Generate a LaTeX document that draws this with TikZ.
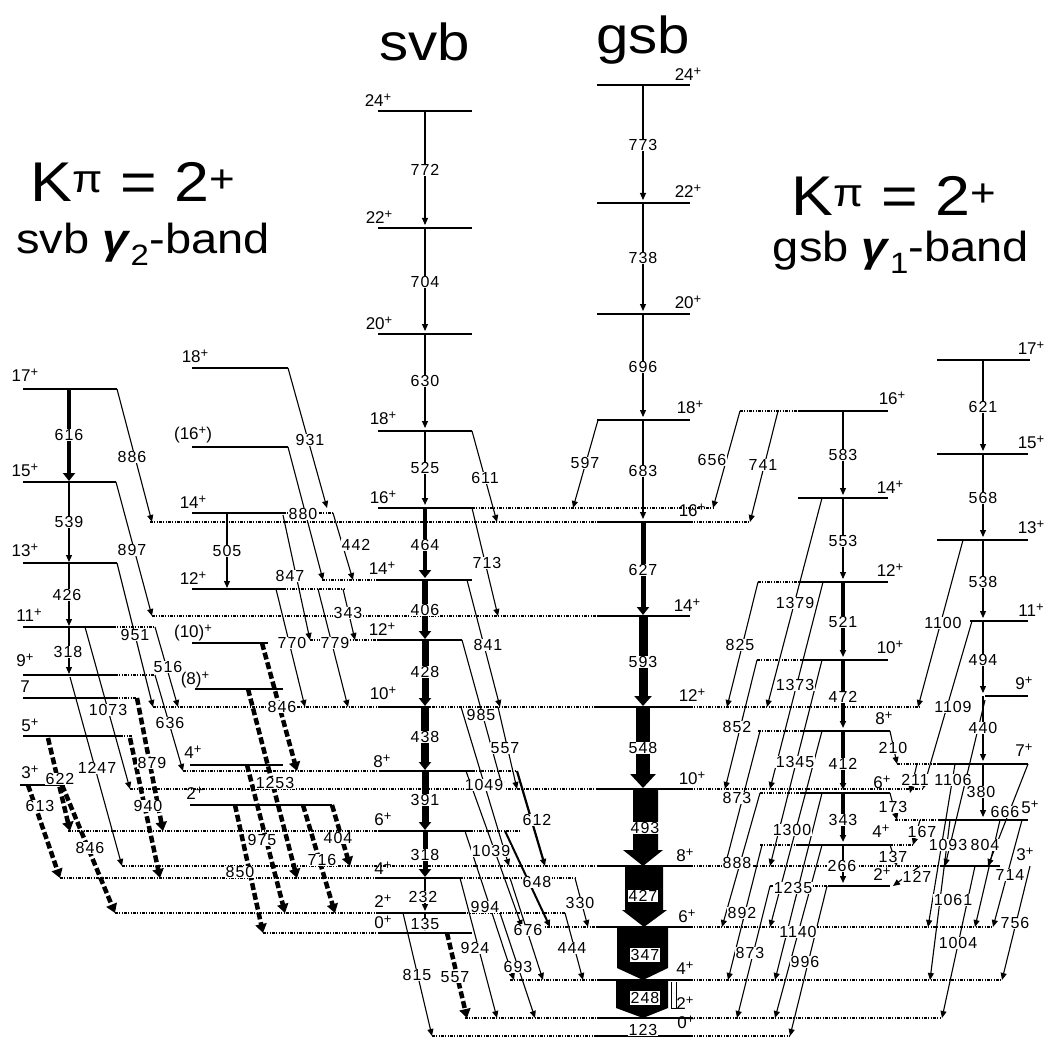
\documentclass[tikz,border=0pt]{standalone}
\usepackage{fontspec}
\setmainfont{Liberation Sans}
\newfontfamily\numfont[LetterSpace=6]{Liberation Sans}
\newfontfamily\widefont[FakeStretch=1.12]{Liberation Sans}
\usetikzlibrary{arrows.meta}
\pgfdeclarelayer{labels}
\pgfsetlayers{main,labels}
\newcounter{trn}
\newcommand\pl{\raisebox{0.55ex}{\fontsize{13}{13}\selectfont +}}
% level line, dotted level extension, spin labels, gamma transition
\newcommand\Lv[3]{\draw[lev] (#1,#3) -- (#2,#3);}
\newcommand\Ex[3]{\draw[ext] (#1,#3) -- (#2,#3);}
\newcommand\Sp[3]{\stepcounter{trn}\node[spn] (sp\arabic{trn}) at (#1,#2) {#3\pl};}
\newcommand\St[3]{\stepcounter{trn}\node[spn] (sp\arabic{trn}) at (#1,#2) {#3};}
\newcommand\Gm[8][]{\stepcounter{trn}%
  \coordinate (t\arabic{trn}) at (#2,#3);%
  \coordinate (h\arabic{trn}) at (#4,#5);%
  \draw[gam,#1] (t\arabic{trn}) -- (h\arabic{trn});%
  \begin{pgfonlayer}{labels}\node[lbl] (e\arabic{trn}) at (#7,#8) {#6};\end{pgfonlayer}}
\begin{document}
\begin{tikzpicture}[x=1pt,y=-1pt,
  lev/.style={line width=1.4pt},
  ext/.style={line width=1.2pt,dash pattern=on 2.5pt off 1.5pt on 1pt off 1.5pt on 1pt off 1.5pt},
  gam/.style={line width=1.1pt,-{Triangle[length=7pt,width=6pt]}},
  thk/.style={-{Triangle[length=8pt,width=12pt]}},
  fat/.style={line width=4.5pt,dash pattern=on 7pt off 3pt,-{Triangle[length=9pt,width=11pt]}},
  lbl/.style={fill=white,inner sep=0.5pt,font=\numfont\fontsize{16}{16}\selectfont},
  spn/.style={inner sep=0pt,font=\fontsize{17}{17}\selectfont},
  ttl/.style={inner sep=0pt,font=\widefont\fontsize{52}{52}\selectfont},
  kpi/.style={inner sep=0pt,font=\widefont\fontsize{56}{56}\selectfont},
  bnd/.style={inner sep=0pt,font=\widefont\fontsize{42}{42}\selectfont},
  box/.style={fill=white,draw,line width=0.8pt,inner sep=1.5pt,font=\numfont\fontsize{16}{16}\selectfont}]
\useasboundingbox (0,0) rectangle (1048,1040);

% ---------------- titles
\node[ttl] (tsvb) at (425,42) {svb};
\node[ttl] (tgsb) at (643,40) {gsb};
\node[kpi] (kl) at (133,182) {K\textsuperscript{π} = 2\textsuperscript{+}};
\node[bnd] (bl) at (143,244) {svb \textbf{\textit{γ}}\textsubscript{2}-band};
\node[kpi] (kr) at (894,196) {K\textsuperscript{π} = 2\textsuperscript{+}};
\node[bnd] (br) at (901,252) {gsb \textbf{\textit{γ}}\textsubscript{1}-band};

% ---------------- ground-state band
\foreach \y in {85,203,314,420,522,616,707,789,866,927,980,1018,1036} {\Lv{597}{690}{\y}}
\Sp{688}{74}{24}\Sp{688}{191}{22}\Sp{688}{302}{20}\Sp{690}{407}{18}
\Sp{692}{510}{16}\Sp{687}{605}{14}\Sp{692}{695}{12}\Sp{692}{778}{10}
\Sp{685}{855}{8}\Sp{687}{916}{6}\Sp{685}{968}{4}\Sp{685}{1003}{2}\Sp{686}{1022}{0}
\Gm{643}{85}{643}{200}{773}{643}{145}
\Gm{643}{203}{643}{311}{738}{643}{258}
\Gm{643}{314}{643}{417}{696}{643}{367}
\Gm{643}{420}{643}{519}{683}{643}{471}
\Gm[line width=5pt,thk]{643}{522}{643}{615}{627}{643}{570}
\Gm[line width=9pt,-{Triangle[length=10pt,width=17pt]}]{643}{616}{643}{706}{593}{643}{662}
\Gm[line width=14pt,-{Triangle[length=14pt,width=25pt]}]{643}{707}{643}{788}{548}{643}{748}
\fill (633,789) -- (658,789) -- (658,850) -- (663,850) -- (643,866) -- (623,850) -- (633,850) -- cycle;
\fill (625,866) -- (663,866) -- (663,910) -- (667,910) -- (644,927) -- (622,910) -- (625,910) -- cycle;
\fill (617,927) -- (668,927) -- (668,968) -- (643,980) -- (617,968) -- cycle;
\fill (616,980) -- (668,980) -- (668,1008) -- (643,1018) -- (616,1008) -- cycle;
\draw[line width=0.8pt] (671,982) -- (671,1008) -- (676,1008) -- (676,982);
\begin{pgfonlayer}{labels}
\node[lbl] (g493) at (645,828) {493};
\node[lbl] (g427) at (643,896) {427};
\node[box] (g347) at (645,955) {347};
\node[box] (g248) at (645,998) {248};
\node[lbl] (g123) at (643,1030) {123};
\end{pgfonlayer}

% ---------------- second-vacuum band
\foreach \y in {111,228,334,431,508,580} {\Lv{378}{472}{\y}}
\Lv{378}{462}{640}\Lv{378}{430}{707}\Lv{380}{472}{771}\Lv{378}{470}{831}
\Lv{378}{460}{878}\Lv{378}{463}{913}\Lv{378}{472}{933}
\Sp{378}{100}{24}\Sp{379}{217}{22}\Sp{379}{323}{20}\Sp{383}{418}{18}
\Sp{383}{497}{16}\Sp{382}{568}{14}\Sp{382}{629}{12}\Sp{383}{693}{10}
\Sp{382}{761}{8}\Sp{383}{819}{6}\Sp{383}{868}{4}\Sp{383}{901}{2}\Sp{383}{922}{0}
\Gm{425}{111}{425}{225}{772}{425}{170}
\Gm{425}{228}{425}{331}{704}{425}{282}
\Gm{425}{334}{425}{428}{630}{425}{381}
\Gm[line width=2.5pt]{425}{431}{425}{505}{525}{425}{468}
\Gm[line width=4pt,thk]{425}{508}{425}{578}{464}{425}{545}
\Gm[line width=6pt,thk]{425}{580}{425}{639}{406}{425}{610}
\Gm[line width=7pt,thk]{425}{640}{425}{706}{428}{425}{672}
\Gm[line width=8pt,thk]{425}{707}{425}{770}{438}{425}{737}
\Gm[line width=7pt,thk]{425}{771}{425}{830}{391}{425}{800}
\Gm[line width=5pt,thk]{425}{831}{425}{877}{318}{425}{855}
\Gm[line width=1.5pt]{425}{878}{425}{911}{232}{423}{897}
\Gm{425}{913}{425}{931}{135}{425}{924}

% level extensions in the central part
\Ex{472}{715}{508}\Ex{150}{597}{522}\Ex{690}{750}{522}
\Ex{322}{378}{580}\Ex{152}{597}{616}\Ex{310}{378}{640}
\Ex{153}{597}{707}\Ex{690}{920}{707}
\Ex{183}{380}{771}\Ex{472}{517}{771}
\Ex{130}{597}{789}\Ex{690}{923}{789}
\Ex{68}{378}{831}\Ex{470}{520}{831}
\Ex{122}{597}{866}\Ex{690}{990}{866}
\Ex{60}{378}{878}\Ex{460}{575}{878}
\Ex{115}{378}{913}\Ex{463}{565}{913}
\Ex{520}{597}{927}\Ex{690}{993}{927}
\Ex{263}{378}{933}
\Ex{510}{597}{980}\Ex{690}{1002}{980}
\Ex{465}{597}{1018}\Ex{690}{942}{1018}
\Ex{432}{597}{1036}\Ex{690}{790}{1036}

% svb -> gsb
\Gm{472}{431}{497}{522}{611}{485}{478}
\Gm{472}{508}{498}{616}{713}{487}{563}
\Gm{467}{580}{500}{707}{841}{488}{645}
\Gm{462}{640}{503}{789}{985}{481}{715}
\Gm{498}{707}{517}{789}{557}{505}{748}
\Gm{461}{707}{509}{866}{1049}{484}{785}
\Gm[line width=2.2pt]{517}{771}{545}{866}{612}{537}{820}
\Gm{466}{771}{522}{927}{1039}{491}{851}
\Gm[line width=2pt]{505}{831}{550}{927}{648}{537}{882}
\Gm{575}{878}{588}{927}{330}{580}{903}
\Gm{465}{831}{514}{980}{994}{485}{907}
\Gm{510}{878}{543}{980}{676}{528}{930}
\Gm{565}{913}{583}{980}{444}{572}{948}
\Gm{460}{878}{497}{1018}{924}{475}{948}
\Gm{500}{913}{535}{1018}{693}{518}{967}
\Gm{403}{913}{432}{1036}{815}{417}{975}
\Gm[fat]{447}{933}{467}{1018}{557}{455}{977}
\Gm{598}{420}{573}{508}{597}{585}{463}

% ---------------- gamma_1 band, even spins
\Lv{798}{888}{411}\Lv{798}{888}{498}\Lv{798}{888}{582}\Lv{800}{888}{660}
\Lv{800}{890}{731}\Lv{800}{890}{793}\Lv{798}{890}{845}\Lv{828}{890}{886}
\Ex{740}{798}{411}\Ex{758}{798}{582}\Ex{757}{800}{660}\Ex{758}{800}{731}
\Ex{760}{800}{793}\Ex{760}{798}{845}\Ex{890}{913}{845}\Ex{770}{828}{886}
\Sp{892}{398}{16}\Sp{890}{487}{14}\Sp{890}{570}{12}\Sp{890}{647}{10}
\Sp{884}{718}{8}\Sp{882}{782}{6}\Sp{881}{831}{4}\Sp{882}{874}{2}
\Gm{843}{411}{843}{495}{583}{843}{455}
\Gm{843}{498}{843}{579}{553}{843}{541}
\Gm[line width=3.5pt]{843}{582}{843}{657}{521}{843}{622}
\Gm[line width=4.5pt]{843}{660}{843}{728}{472}{843}{697}
\Gm[line width=4.5pt]{843}{731}{843}{790}{412}{843}{764}
\Gm[line width=3.5pt]{843}{793}{843}{842}{343}{843}{820}
\Gm[line width=1.5pt]{843}{845}{843}{883}{266}{842}{866}
\Gm{740}{411}{713}{508}{656}{712}{460}
\Gm{778}{411}{750}{522}{741}{763}{465}
\Gm{822}{498}{767}{707}{1379}{795}{603}
\Gm{758}{582}{727}{707}{825}{740}{645}
\Gm{823}{582}{770}{789}{1373}{795}{685}
\Gm{757}{660}{725}{789}{852}{737}{727}
\Gm{822}{660}{770}{866}{1345}{795}{762}
\Gm{760}{731}{725}{866}{873}{737}{798}
\Gm{822}{731}{770}{927}{1300}{792}{830}
\Gm{760}{793}{722}{927}{888}{737}{863}
\Gm{822}{793}{775}{980}{1235}{793}{888}
\Gm{762}{845}{728}{980}{892}{742}{913}
\Gm{822}{845}{775}{1018}{1140}{798}{932}
\Gm{770}{886}{737}{1018}{873}{750}{953}
\Gm{827}{886}{790}{1036}{996}{805}{962}

% ---------------- gamma_1 band, odd spins
\Lv{937}{1030}{360}\Lv{937}{1028}{454}\Lv{937}{1028}{540}\Lv{970}{1028}{621}
\Lv{985}{1028}{696}\Lv{937}{1028}{764}\Lv{938}{1028}{820}\Lv{940}{1000}{866}
\Ex{897}{937}{764}\Ex{895}{938}{820}
\Sp{1031}{348}{17}\Sp{1031}{442}{15}\Sp{1031}{527}{13}\Sp{1031}{610}{11}
\Sp{1024}{683}{9}\Sp{1024}{750}{7}\Sp{1030}{807}{5}\Sp{1025}{854}{3}
\Gm{983}{360}{983}{451}{621}{983}{407}
\Gm{983}{454}{983}{537}{568}{983}{498}
\Gm{983}{540}{983}{618}{538}{983}{582}
\Gm{983}{621}{983}{693}{494}{983}{660}
\Gm{983}{696}{983}{761}{440}{983}{728}
\Gm{983}{764}{983}{817}{380}{981}{792}
\Gm{890}{731}{897}{764}{210}{893}{748}
\Gm{917}{764}{910}{793}{211}{915}{780}
\Gm{890}{793}{897}{820}{173}{893}{807}
\Gm{920}{820}{913}{845}{167}{922}{832}
\Gm{890}{845}{897}{866}{137}{893}{857}
\Gm{920}{866}{893}{886}{127}{917}{877}
\Gm{963}{540}{918}{707}{1100}{943}{623}
\Gm{972}{621}{923}{789}{1109}{953}{707}
\Gm{985}{700}{945}{866}{1106}{953}{780}
\Gm{1028}{764}{988}{866}{666}{1005}{812}
\Gm{955}{764}{928}{927}{1093}{948}{845}
\Gm{1000}{820}{975}{927}{804}{985}{845}
\Gm{1022}{820}{993}{927}{714}{1010}{875}
\Gm{950}{820}{930}{980}{1061}{953}{900}
\Gm{1030}{866}{1002}{980}{756}{1015}{923}
\Gm{975}{866}{942}{1018}{1004}{958}{943}

% ---------------- gamma_2 band, odd spins
\Lv{23}{117}{389}\Lv{23}{116}{482}\Lv{23}{117}{563}\Lv{23}{113}{627}
\Lv{23}{115}{675}\Lv{23}{115}{698}\Lv{23}{120}{736}\Lv{20}{65}{785}
\Ex{113}{155}{627}\Ex{115}{155}{675}\Ex{115}{137}{698}\Ex{120}{133}{736}
\Sp{25}{375}{17}\Sp{25}{470}{15}\Sp{25}{550}{13}\Sp{29}{615}{11}
\Sp{25}{660}{9}\St{25}{687}{7}\Sp{30}{725}{5}\Sp{30}{772}{3}
\Gm[line width=4pt,thk]{69}{389}{69}{481}{616}{69}{435}
\Gm{69}{482}{69}{562}{539}{69}{522}
\Gm{69}{563}{69}{626}{426}{67}{595}
\Gm{69}{627}{69}{674}{318}{68}{652}
\Gm{117}{389}{152}{522}{886}{132}{457}
\Gm{116}{482}{152}{616}{897}{132}{550}
\Gm{117}{563}{153}{707}{951}{135}{635}
\Gm{70}{677}{122}{866}{1247}{97}{768}
\Gm{85}{627}{130}{789}{1073}{108}{710}
\Gm{155}{627}{178}{707}{516}{168}{667}
\Gm{155}{675}{183}{771}{636}{170}{723}
\Gm[fat]{48}{738}{70}{831}{622}{60}{779}
\Gm[fat]{28}{785}{60}{878}{613}{40}{806}
\Gm[fat]{62}{785}{115}{913}{846}{90}{848}
\Gm[fat]{130}{738}{160}{878}{940}{148}{806}
\Gm[fat]{137}{698}{163}{831}{879}{152}{763}

% ---------------- gamma_2 band, even spins
\Lv{192}{288}{368}\Lv{192}{288}{447}\Lv{192}{283}{513}\Lv{192}{283}{589}
\Lv{192}{268}{643}\Lv{195}{283}{689}\Lv{190}{283}{765}\Lv{190}{332}{805}
\Ex{283}{333}{513}\Ex{283}{345}{589}
\Sp{195}{356}{18}\St{193}{435}{(16\pl)}\Sp{193}{502}{14}\Sp{193}{578}{12}
\St{193}{633}{(10)\pl}\St{195}{680}{(8)\pl}\Sp{193}{752}{4}\Sp{195}{793}{2}
\Gm{227}{513}{227}{588}{505}{227}{551}
\Gm{288}{368}{327}{508}{931}{310}{440}
\Gm{288}{447}{323}{580}{880}{303}{514}
\Gm{333}{513}{353}{580}{442}{356}{545}
\Gm{283}{515}{310}{640}{847}{290}{576}
\Gm{276}{589}{305}{707}{770}{292}{643}
\Gm{318}{589}{348}{707}{779}{335}{643}
\Gm{343}{589}{355}{640}{343}{348}{613}
\Gm[fat]{262}{643}{297}{771}{846}{282}{707}
\Gm[fat]{248}{689}{297}{878}{1253}{275}{783}
\Gm[fat]{247}{765}{285}{913}{975}{262}{840}
\Gm[fat]{235}{805}{263}{933}{850}{240}{872}
\Gm[fat]{303}{805}{335}{913}{716}{322}{860}
\Gm[fat]{332}{805}{350}{866}{404}{338}{838}
\end{tikzpicture}
\end{document}
